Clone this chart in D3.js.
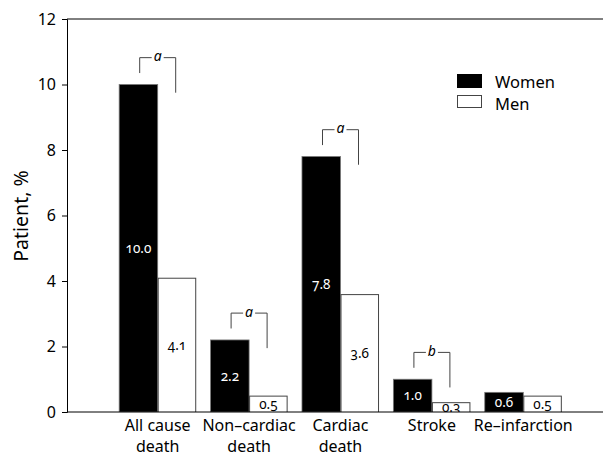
<!DOCTYPE html>
<html><head><meta charset="utf-8">
<script src="https://cdn.jsdelivr.net/npm/d3@7"></script>
<style>
body{margin:0;background:#fff;}
svg{font-family:"Noto Sans","Open Sans",sans-serif;}
.val{font-variant-numeric:oldstyle-nums;}
</style></head>
<body><svg id="c" width="603" height="456"></svg>
<script>
const categories = ["All cause\ndeath","Non\u2013cardiac\ndeath","Cardiac\ndeath","Stroke","Re\u2013infarction"];
const women = [10.0, 2.2, 7.8, 1.0, 0.6];
const men = [4.1, 0.5, 3.6, 0.3, 0.5];
const yTicks = [0,2,4,6,8,10,12];
const sigCats = ["All cause\ndeath","Non\u2013cardiac\ndeath","Cardiac\ndeath","Stroke"];
const sigLetters = ["a","a","a","b"];
const seriesNames = ["Women","Men"];

const svg = d3.select("#c");
const W = 603, H = 456;
const y = d3.scaleLinear().domain([0,12]).range([412,19]);
const x = d3.scaleBand().domain(categories).range([112,569]).paddingInner(0.157).paddingOuter(0.0785);
const x1 = d3.scaleBand().domain(seriesNames).range([0,x.bandwidth()]);

svg.append("defs").append("clipPath").attr("id","plot")
  .append("rect").attr("x",67).attr("y",0).attr("width",W-67).attr("height",412);

const g = svg.append("g").attr("clip-path","url(#plot)");
categories.forEach((c,i)=>{
  const gx = x(c);
  g.append("rect").attr("x",gx+x1("Women")).attr("y",y(women[i]))
    .attr("width",x1.bandwidth()).attr("height",y(0)-y(women[i]))
    .attr("fill","#000").attr("stroke","#777").attr("stroke-width",0.8);
  g.append("rect").attr("x",gx+x1("Men")+0.5).attr("y",y(men[i])+0.5)
    .attr("width",x1.bandwidth()-1).attr("height",y(0)-y(men[i]))
    .attr("fill","#fff").attr("stroke","#444").attr("stroke-width",1);
  g.append("text").attr("class","val").attr("x",gx+x1("Women")+x1.bandwidth()/2).attr("y",(y(women[i])+y(0))/2)
    .attr("dy","0.35em").attr("text-anchor","middle").attr("fill","#fff").attr("font-size",13.5)
    .text(women[i].toFixed(1));
  g.append("text").attr("class","val").attr("x",gx+x1("Men")+x1.bandwidth()/2).attr("y",(y(men[i])+y(0))/2)
    .attr("dy","0.35em").attr("text-anchor","middle").attr("fill","#000").attr("font-size",13.5)
    .text(men[i].toFixed(1));
});

const yAxis = d3.axisLeft(y).tickValues(yTicks).tickSize(5).tickPadding(6).tickFormat(d3.format("d"));
const ya = svg.append("g").attr("transform","translate(67,0)").call(yAxis);
ya.attr("font-family",null).attr("font-size",null);
ya.select(".domain").attr("stroke","#000");
ya.selectAll("text").attr("font-size",16).attr("fill","#000");
svg.append("line").attr("x1",67).attr("x2",W).attr("y1",y(12)).attr("y2",y(12)).attr("stroke","#000");
svg.append("line").attr("x1",67).attr("x2",W).attr("y1",y(0)).attr("y2",y(0)).attr("stroke","#000");

categories.forEach(c=>{
  const lines = c.split("\n");
  lines.forEach((l,j)=>svg.append("text").attr("x",x(c)+x.bandwidth()/2).attr("y",431+j*21)
    .attr("text-anchor","middle").attr("font-size",16).attr("fill","#000").text(l));
});

svg.append("text").attr("transform","translate(28,"+(216)+") rotate(-90)")
  .attr("text-anchor","middle").attr("font-size",19.5).attr("fill","#000").text("Patient, %");

sigCats.forEach((c,k)=>{
  const i = categories.indexOf(c);
  const cx = x(c)+x.bandwidth()/2;
  const top = y(women[i]+0.82), lb = y(women[i]+0.35), rb = y(women[i]+0.82-1.07);
  const bg = svg.append("g").attr("stroke","#444").attr("fill","none").attr("stroke-width",1);
  bg.append("path").attr("d",`M${cx-18},${lb}V${top}H${cx-6}`);
  bg.append("path").attr("d",`M${cx+6},${top}H${cx+18}V${rb}`);
  svg.append("text").attr("x",cx).attr("y",top).attr("dy","0.25em").attr("text-anchor","middle")
    .attr("font-style","italic").attr("font-size",14).text(sigLetters[k]);
});

const lg = svg.append("g").attr("transform","translate(457,74)");
lg.append("rect").attr("x",0).attr("y",0).attr("width",25).attr("height",14).attr("fill","#000");
lg.append("rect").attr("x",0.5).attr("y",21.5).attr("width",24).attr("height",12).attr("fill","#fff").attr("stroke","#444");
lg.append("text").attr("x",38).attr("y",14).attr("font-size",16.5).text(seriesNames[0]);
lg.append("text").attr("x",38).attr("y",36).attr("font-size",16.5).text(seriesNames[1]);
</script></body></html>
